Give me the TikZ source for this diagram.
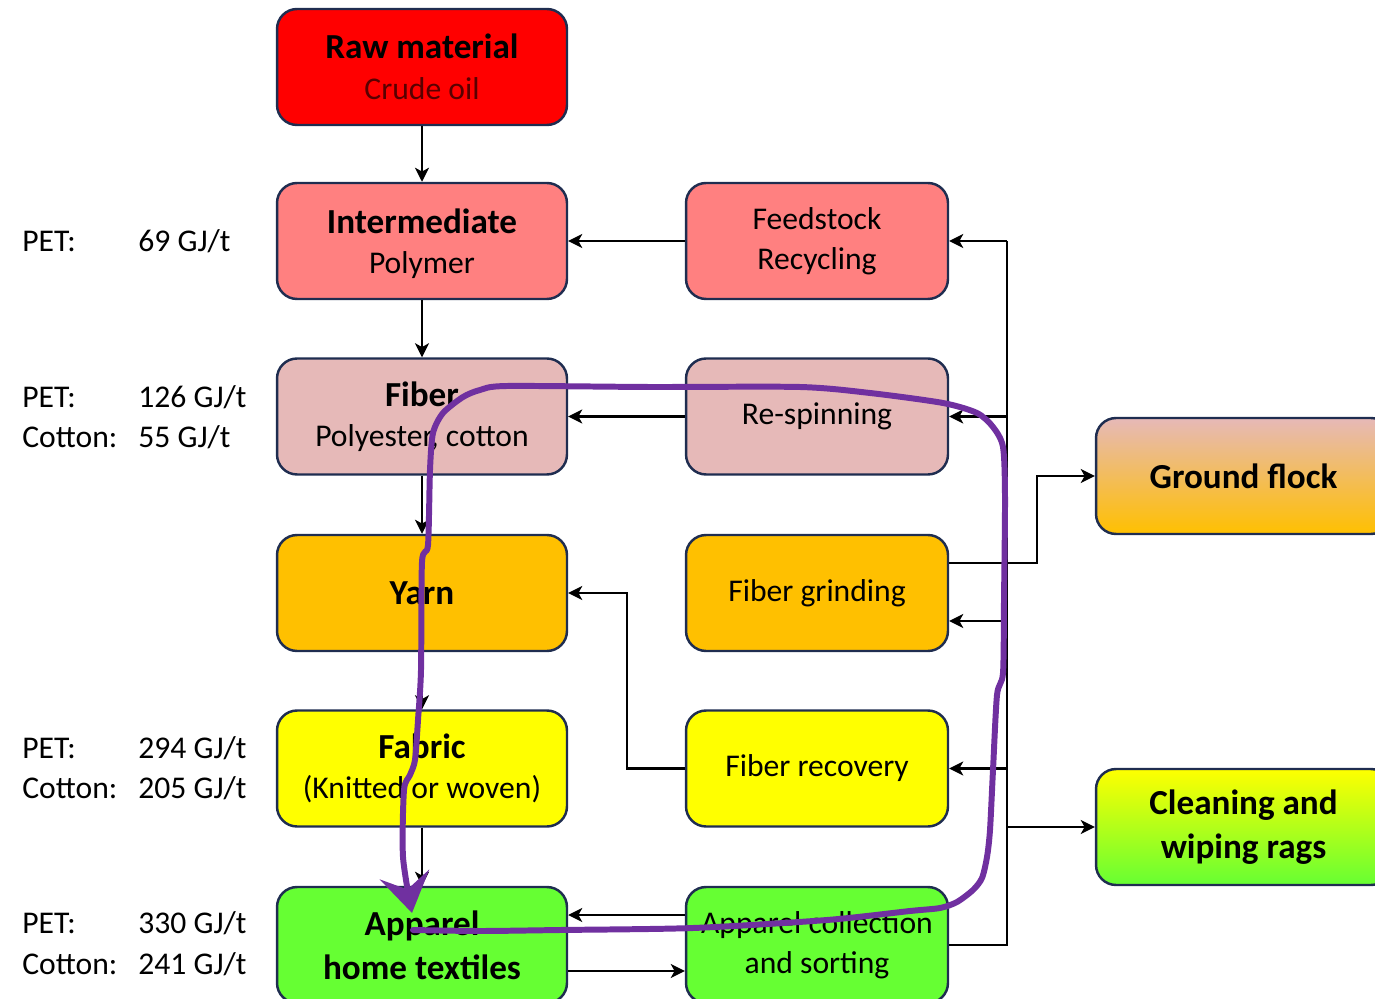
\documentclass[tikz,border=0pt]{standalone}
\usepackage{fontspec}
\setmainfont{Carlito}
\usetikzlibrary{arrows.meta, positioning}

\definecolor{boxline}{RGB}{31,45,80}
\definecolor{rawred}{RGB}{255,0,0}
\definecolor{polypink}{RGB}{255,128,128}
\definecolor{fiberrose}{RGB}{230,185,184}
\definecolor{yarnorange}{RGB}{255,192,0}
\definecolor{fabricyellow}{RGB}{255,255,0}
\definecolor{apparelgreen}{RGB}{102,255,51}
\definecolor{loopviolet}{RGB}{112,48,160}

\begin{document}
\begin{tikzpicture}[
x=0.02cm, y=-0.02cm,
box/.style={draw=boxline, line width=1.4pt, rounded corners=0.4cm, minimum height=2.32cm, align=center, font=\fontsize{18}{23}\selectfont},
lbox/.style={box, minimum width=5.8cm},
rbox/.style={box, minimum width=5.24cm},
xbox/.style={box, minimum width=5.9cm},
lbl/.style={anchor=west, inner sep=0pt, font=\fontsize{18}{22}\selectfont},
link/.style={line width=1.3pt},
arr/.style={link, -{Stealth[length=8pt, width=8pt, inset=2.2pt]}}
]

\useasboundingbox (0,0) rectangle (1375,999);
\clip (0,0) rectangle (1375,999);

% main chain
\node[lbox, fill=rawred] (raw) at (422,67) {\textbf{\fontsize{20}{23}\selectfont Raw material}\\\textcolor{red!35!black}{Crude oil}};
\node[lbox, fill=polypink, text depth=0pt] (inter) at (422,241) {\textbf{\fontsize{20}{23}\selectfont Intermediate}\\Polymer};
\node[lbox, fill=fiberrose] (fiber) at (422,416.5) {\textbf{\fontsize{20}{23}\selectfont Fiber}\\Polyester, cotton};
\node[lbox, fill=yarnorange] (yarn) at (422,593) {\textbf{\fontsize{20}{23}\selectfont Yarn}};
\node[lbox, fill=fabricyellow] (fabric) at (422,768.5) {\textbf{\fontsize{20}{23}\selectfont Fabric}\\(Knitted or woven)};
\node[lbox, fill=apparelgreen, font=\fontsize{20}{25}\selectfont\bfseries] (app) at (422,945) {Apparel\\home textiles};

% recycling column
\node[rbox, fill=polypink] (feed) at (817,241) {Feedstock\\Recycling};
\node[rbox, fill=fiberrose] (respin) at (817,416.5) {Re-spinning};
\node[rbox, fill=yarnorange] (grind) at (817,593) {Fiber grinding};
\node[rbox, fill=fabricyellow] (recov) at (817,768.5) {Fiber recovery};
\node[rbox, fill=apparelgreen] (coll) at (817,945) {Apparel collection\\and sorting};

% downcycling
\node[xbox, top color=fiberrose, bottom color=yarnorange, font=\fontsize{20}{25}\selectfont\bfseries] (flock) at (1243.5,476) {Ground flock};
\node[xbox, top color=fabricyellow, bottom color=apparelgreen, font=\fontsize{20}{25}\selectfont\bfseries] (clean) at (1243.5,827) {Cleaning and\\wiping rags};

% energy figures
\node[lbl] (petI) at (22,241) {PET:};
\node[lbl] (petIv) at (138,241) {69 GJ/t};
\node[lbl] (petF) at (22,397) {PET:};
\node[lbl] (petFv) at (138,397) {126 GJ/t};
\node[lbl] (cotF) at (22,437) {Cotton:};
\node[lbl] (cotFv) at (138,437) {55 GJ/t};
\node[lbl] (petB) at (22,748) {PET:};
\node[lbl] (petBv) at (138,748) {294 GJ/t};
\node[lbl] (cotB) at (22,788) {Cotton:};
\node[lbl] (cotBv) at (138,788) {205 GJ/t};
\node[lbl] (petA) at (22,923) {PET:};
\node[lbl] (petAv) at (138,923) {330 GJ/t};
\node[lbl] (cotA) at (22,964) {Cotton:};
\node[lbl] (cotAv) at (138,964) {241 GJ/t};

% chain arrows
\draw[arr] (raw) -- (inter);
\draw[arr] (inter) -- (fiber);
\draw[arr] (fiber) -- (yarn);
\draw[arr] (yarn) -- (fabric);
\draw[arr] (fabric) -- (app);

\draw[arr] (feed) -- (inter);
\draw[arr] (respin) -- (fiber);
\coordinate (jog) at (627,0);
\draw[arr] (recov.west) -- (recov.west -| jog) |- (yarn.east);

\draw[arr] ([yshift=-0.52cm]app.east) -- ([yshift=-0.52cm]coll.west);
\draw[arr] ([yshift=0.6cm]coll.west) -- ([yshift=0.6cm]app.east);

% return bus
\coordinate (bus) at (1007,0);
\coordinate (bus2) at (1037,0);
\coordinate (grindout) at ([yshift=0.6cm]grind.east);
\coordinate (grindin) at ([yshift=-0.56cm]grind.east);
\draw[link] (coll.east) -- (coll.east -| bus) -- (bus |- feed.east);
\draw[arr] (bus |- feed.east) -- (feed.east);
\draw[arr] (bus |- respin.east) -- (respin.east);
\draw[arr] (bus |- grindin) -- (grindin);
\draw[arr] (bus |- recov.east) -- (recov.east);
\draw[arr] (bus |- clean.west) -- (clean.west);
\draw[arr] (grindout) -- (grindout -| bus2) |- (flock.west);

% hand-drawn loop
\draw[loopviolet, line width=3.4pt, line cap=round, line join=round,
  -{Stealth[length=0.78cm, width=1.0cm, inset=0.3cm]}]
  plot[smooth, tension=0.45] coordinates {
  (413,930) (480,931) (560,930) (693,928) (827,920) (910,911) (940,908)
  (957,902) (973,890) (982,878) (987,857) (990,830) (993,770) (997,695)
  (1003,673) (1004,600) (1005,497) (1003,447) (993,427) (977,413) (943,403)
  (870,393) (800,387) (650,387) (507,386) (480,390) (463,397) (443,413)
  (433,433) (430,470) (428,545) (422,562) (421,670) (418,720) (415,760)
  (410,775) (404,790) (403,857) (412,913)};

\end{tikzpicture}
\end{document}
